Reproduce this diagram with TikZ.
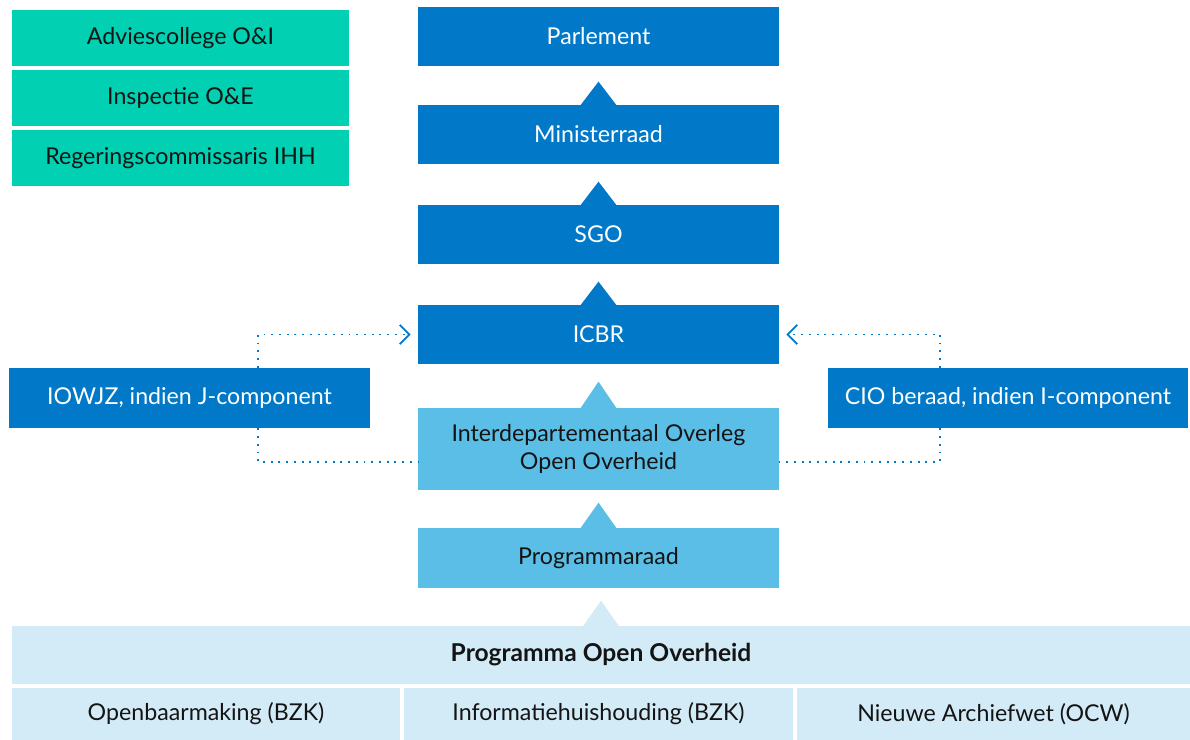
\documentclass[tikz,border=0pt]{standalone}
\usepackage{fontspec}
\setmainfont{Lato}
\usetikzlibrary{arrows.meta}

\definecolor{dblue}{RGB}{1,121,200}
\definecolor{lblue}{RGB}{90,190,230}
\definecolor{pblue}{RGB}{211,235,246}
\definecolor{tgreen}{RGB}{1,208,178}
\definecolor{ink}{RGB}{20,20,20}

\tikzset{
  box/.style={inner sep=0pt, align=center, font=\fontsize{13.2}{16}\selectfont},
  darkbox/.style={box, fill=dblue, text=white, minimum width=7.22cm, minimum height=1.18cm},
  lightbox/.style={box, fill=lblue, text=ink, minimum width=7.22cm},
  greenbox/.style={box, fill=tgreen, text=ink, minimum width=6.74cm, minimum height=1.12cm},
  palebox/.style={box, fill=pblue, text=ink, minimum height=1.04cm},
  dotline/.style={dblue, line width=1.1pt, dash pattern=on 1.1pt off 3.3pt},
  chevron/.style={-{Straight Barb[length=5.5pt,width=11pt,line width=1pt]}}
}

\begin{document}
\begin{tikzpicture}[x=0.02cm,y=-0.02cm]
  \useasboundingbox (0,0) rectangle (1190,740);

  % advisory bodies
  \node[greenbox] (acoi) at (180.5,38)  {Adviescollege O\&I};
  \node[greenbox] (inoe) at (180.5,98)  {Inspectie O\&E};
  \node[greenbox] (rcih) at (180.5,158) {Regeringscommissaris IHH};

  % main column
  \node[darkbox] (parl) at (598.5,36.5)  {Parlement};
  \node[darkbox] (mr)   at (598.5,134.5) {Ministerraad};
  \node[darkbox] (sgo)  at (598.5,234.5) {SGO};
  \node[darkbox] (icbr) at (598.5,334.5) {ICBR};
  \node[lightbox, minimum height=1.64cm] (ioo) at (598.5,449) {Interdepartementaal Overleg\\Open Overheid};
  \node[lightbox, minimum height=1.2cm] (praad) at (598.5,558) {Programmaraad};

  % side bodies
  \node[darkbox, minimum height=1.2cm] (iowjz) at (189.5,398) {IOWJZ, indien J-component};
  \node[darkbox, minimum width=7.2cm, minimum height=1.2cm] (cio) at (1008,398) {CIO beraad, indien I-component};

  % programme
  \node[palebox, minimum width=23.56cm, minimum height=1.16cm, font=\fontsize{14}{16}\selectfont\bfseries] (poo) at (601,655) {Programma Open Overheid};
  \node[palebox, minimum width=7.76cm] (obm) at (206,714)   {Openbaarmaking (BZK)};
  \node[palebox, minimum width=7.78cm] (ihh) at (598.5,714) {Informatiehuishouding (BZK)};
  \node[palebox, minimum width=7.86cm] (naw) at (993.5,714) {Nieuwe Archiefwet (OCW)};

  % arrow heads on top of the boxes
  \fill[dblue] (mr.north)    ++(-18,0.5) -- ++(18,-23.5) -- ++(18,23.5) -- cycle;
  \fill[dblue] (sgo.north)   ++(-18,0.5) -- ++(18,-23.5) -- ++(18,23.5) -- cycle;
  \fill[dblue] (icbr.north)  ++(-18,0.5) -- ++(18,-23.5) -- ++(18,23.5) -- cycle;
  \fill[lblue] (ioo.north)   ++(-18,0.5) -- ++(18,-26.5) -- ++(18,26.5) -- cycle;
  \fill[lblue] (praad.north) ++(-18,0.5) -- ++(18,-25.5) -- ++(18,25.5) -- cycle;
  \fill[pblue] (poo.north)   ++(-18,0.5) -- ++(18,-25.5) -- ++(18,25.5) -- cycle;

  % dotted links
  \coordinate (lx) at (258,0);
  \coordinate (rx) at (940,0);
  \draw[dotline, chevron, shorten >=4pt] (iowjz.north -| lx) |- (icbr.west);
  \draw[dotline] (iowjz.south -| lx) |- ([yshift=-0.26cm]ioo.west);
  \draw[dotline, chevron, shorten >=4pt] (cio.north -| rx) |- (icbr.east);
  \draw[dotline] (cio.south -| rx) |- ([yshift=-0.26cm]ioo.east);
\end{tikzpicture}
\end{document}
